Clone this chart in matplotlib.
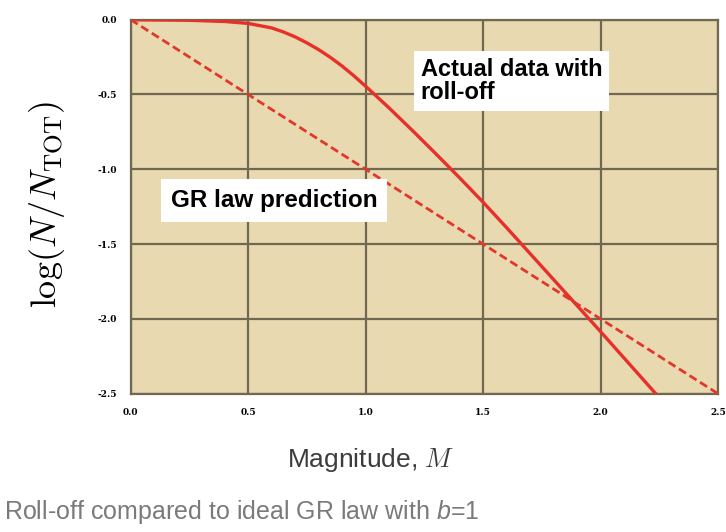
import numpy as np
import matplotlib
matplotlib.use('Agg')
import matplotlib.pyplot as plt

# observed catalogue with roll-off at small magnitudes
mag_obs = [0.0, 0.25, 0.4, 0.5, 0.6, 0.65, 0.7, 0.75, 0.8, 0.85, 0.9, 0.95,
           1.0, 1.1, 1.2, 1.3, 1.4, 1.5, 1.6, 1.75, 2.0, 2.235]
logn_obs = [0.0, -0.004, -0.012, -0.025, -0.055, -0.082, -0.115, -0.155,
            -0.2, -0.252, -0.31, -0.375, -0.445, -0.59, -0.742, -0.898,
            -1.057, -1.22, -1.39, -1.65, -2.085, -2.50]

# ideal Gutenberg-Richter line, b = 1
mag_gr = [0.0, 2.5]
logn_gr = [0.0, -2.5]

ticks_x = [0.0, 0.5, 1.0, 1.5, 2.0, 2.5]
ticks_y = [0.0, -0.5, -1.0, -1.5, -2.0, -2.5]

plt.rcParams['mathtext.fontset'] = 'custom'
plt.rcParams['mathtext.it'] = 'Liberation Sans:italic'
plt.rcParams['mathtext.rm'] = 'Liberation Sans'

fig = plt.figure(figsize=(7.26, 5.32), dpi=100)
ax = fig.add_axes([0.180, 0.260, 0.809, 0.703])
ax.set_facecolor('#e9d9b0')

grid_col = '#706850'
ax.plot(mag_gr, logn_gr, '--', color='#e2382c', lw=2, dashes=(3, 1.5), zorder=3)
ax.plot(mag_obs, logn_obs, '-', color='#e8302a', lw=2.4, zorder=4)

ax.set_xlim(0, 2.5)
ax.set_ylim(-2.5, 0)
ax.set_xticks(ticks_x)
ax.set_yticks(ticks_y)
ax.set_xticklabels(['%.1f' % t for t in ticks_x])
ax.set_yticklabels(['%.1f' % t for t in ticks_y])
ax.tick_params(length=0, labelsize=6.5, pad=10)
for lab in ax.get_xticklabels() + ax.get_yticklabels():
    lab.set_fontfamily('DejaVu Serif')
    lab.set_fontweight('bold')
ax.grid(True, color=grid_col, lw=1.6, zorder=1)
for s in ax.spines.values():
    s.set_color(grid_col)
    s.set_linewidth(1.6)

ax.text(1.235, -0.255, 'Actual data with\nroll-off', fontsize=17,
        fontweight='bold', family='Liberation Sans', va='top', ha='left',
        linespacing=1.0, zorder=5,
        bbox=dict(facecolor='white', edgecolor='none', pad=5))
ax.text(0.17, -1.21, 'GR law prediction', fontsize=17.5,
        fontweight='bold', family='Liberation Sans', va='center', ha='left',
        bbox=dict(facecolor='white', edgecolor='none', pad=7), zorder=5)

fig.text(0.065, 0.615, r'$\log(N/N_{\mathrm{TOT}})$', rotation=90,
         fontsize=26, ha='center', va='center', math_fontfamily='cm')
fig.text(0.51, 0.135, r'Magnitude, $M$', fontsize=19, color='#3c3c3c',
         family=['Liberation Sans Narrow', 'Liberation Sans'],
         ha='center', va='center', math_fontfamily='cm')
fig.text(0.005, 0.037, r'Roll-off compared to ideal GR law with $b$=1',
         fontsize=18, color='#7a7a7a', family='Liberation Sans',
         ha='left', va='center')

fig.savefig('out.png', dpi=100)
